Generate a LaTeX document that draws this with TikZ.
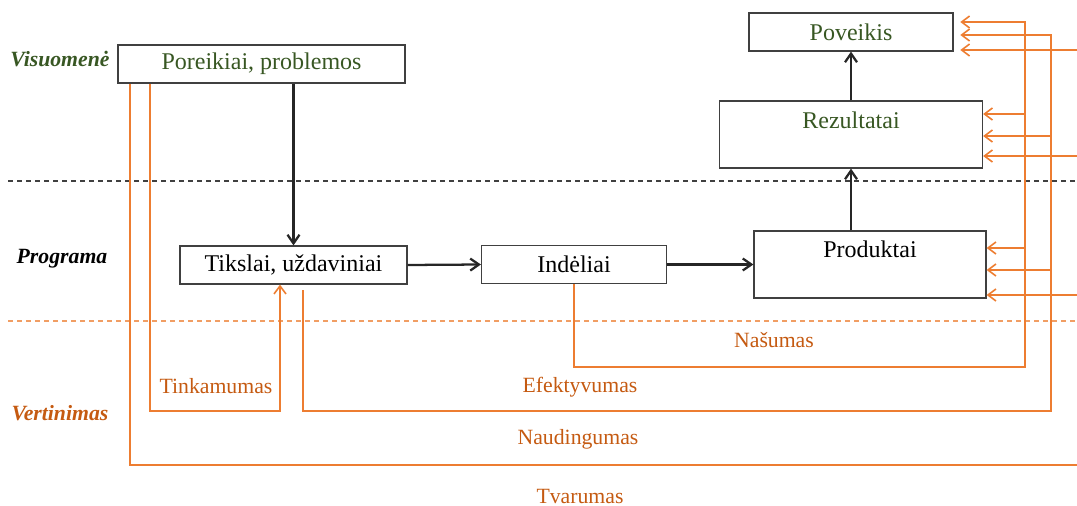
\documentclass[tikz,border=0pt]{standalone}
\usepackage{fontspec}
\setmainfont{Liberation Serif}
\usetikzlibrary{arrows.meta}
\usepackage{xcolor}

\definecolor{txtgreen}{HTML}{385723}
\definecolor{evorange}{HTML}{ED7D31}
\definecolor{evtext}{HTML}{C55A11}
\definecolor{boxgray}{HTML}{404040}

\tikzset{
	box/.style={draw=boxgray, line width=0.9pt, minimum height=28.5pt, inner sep=0pt, font=\fontsize{18}{20}\selectfont},
	flow/.style={-{Straight Barb[length=6.5pt,width=9pt]}, line width=1.7pt, black!85},
	evl/.style={draw=evorange, line width=1.2pt},
	evarr/.style={evl, -{Straight Barb[length=6pt,width=9pt]}},
	evlabel/.style={text=evtext, font=\fontsize{16.3}{18}\selectfont},
	side/.style={font=\fontsize{16.3}{18}\selectfont\bfseries\itshape},
}

\begin{document}
\begin{tikzpicture}[x=0.75pt,y=-0.75pt]
	\useasboundingbox (0,0) rectangle (1077,506);

	% boxes
	\node (pov) at (851,32) [box, minimum width=153pt, text=txtgreen] {Poveikis};
	\node (rez) at (851,134.5) [box, minimum width=197.25pt, text height=21pt, text depth=29.25pt, text=txtgreen] {Rezultatai};
	\node (por) at (261.5,64) [box, minimum width=215.25pt, text=txtgreen] {Poreikiai, problemos};
	\node (tik) at (293.5,265) [box, minimum width=170.25pt] {Tikslai, uždaviniai};
	\node (ind) at (574,264.5) [box, minimum width=138.75pt] {Indėliai};
	\node (prod) at (870,264.5) [box, minimum width=174pt, text height=19.5pt, text depth=30.75pt] {Produktai};

	% levels
	\node (soc) at (60,59) [side, text=txtgreen] {Visuomenė};
	\node (prog) at (62,259) [side] {Programa};
	\node (vert) at (60,413) [side, text=evtext] {Vertinimas};
	\draw[boxgray, line width=0.8pt, dash pattern=on 3.75pt off 3pt] (8,181) -- (1077,181);
	\draw[evorange!75, line width=0.8pt, dash pattern=on 3.75pt off 3pt] (8,321) -- (1077,321);

	% program flow
	\draw[flow] (tik.north |- por.south) -- (tik.north);
	\draw[flow] (tik.east) -- (ind.west);
	\draw[flow] (ind.east) -- (ind.east -| prod.west);
	\draw[flow] (prod.north -| rez.south) -- (rez.south);
	\draw[flow] (rez.north) -- (pov.south -| rez.north);

	% evaluation
	\coordinate (vA) at (1025,367);
	\coordinate (vB) at (1051,411);
	\coordinate (edge) at (1077,0);
	\coordinate (efs) at (303,290);

	\draw[evarr] (por.south -| 150,0) |- (280,411) -- (tik.south -| 280,0);
	\draw[evarr, shorten >=5pt] (ind.south) |- (vA) -- (vA |- 0,22) -- (pov.east |- 0,22);
	\draw[evarr] (vA |- 0,114) -- (rez.east |- 0,114);
	\draw[evarr] (vA |- 0,248) -- (prod.east |- 0,248);
	\draw[evarr, shorten >=5pt] (efs) |- (vB) -- (vB |- 0,35) -- (pov.east |- 0,35);
	\draw[evarr] (vB |- 0,136) -- (rez.east |- 0,136);
	\draw[evarr] (vB |- 0,270) -- (prod.east |- 0,270);
	\draw[evarr, shorten >=5pt] (edge |- 0,50) -- (pov.east |- 0,50);
	\draw[evarr] (edge |- 0,156) -- (rez.east |- 0,156);
	\draw[evarr] (edge |- 0,295) -- (prod.east |- 0,295);
	\draw[evl] (por.south -| 130,0) |- (edge |- 0,465);

	\node (tin) at (216,386) [evlabel] {Tinkamumas};
	\node (nas) at (774,340) [evlabel] {Našumas};
	\node (efk) at (580,387) [evlabel] {Efektyvumas};
	\node (nau) at (578,439) [evlabel] {Naudingumas};
	\node (tva) at (580,496) [evlabel] {Tvarumas};
\end{tikzpicture}
\end{document}
